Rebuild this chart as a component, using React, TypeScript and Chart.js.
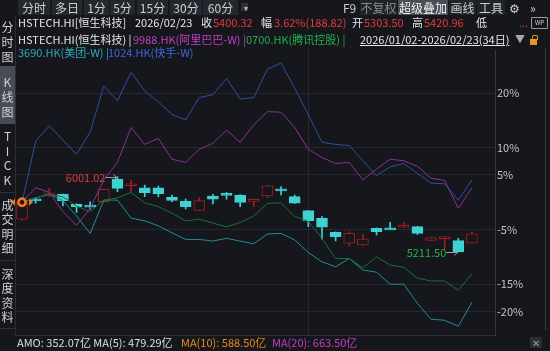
import React, { useEffect, useRef } from "react";
import { Chart, registerables } from "chart.js";

Chart.register(...registerables);

// 34 trading days, 2026/01/02 - 2026/02/23
const dates = [
  "2026-01-02", "2026-01-05", "2026-01-06", "2026-01-07", "2026-01-08", "2026-01-09",
  "2026-01-12", "2026-01-13", "2026-01-14", "2026-01-15", "2026-01-16",
  "2026-01-19", "2026-01-20", "2026-01-21", "2026-01-22", "2026-01-23",
  "2026-01-26", "2026-01-27", "2026-01-28", "2026-01-29", "2026-01-30",
  "2026-02-02", "2026-02-03", "2026-02-04", "2026-02-05", "2026-02-06",
  "2026-02-09", "2026-02-10", "2026-02-11", "2026-02-12", "2026-02-13",
  "2026-02-16", "2026-02-20", "2026-02-23",
];

// HSTECH.HI daily OHLC
const opens = [5553, 5749, 5797, 5815, 5713, 5702, 5737, 5976, 5905, 5884, 5884, 5784, 5741, 5647, 5797, 5821, 5808, 5741, 5797, 5855, 5790, 5643, 5563, 5416, 5301, 5283, 5458, 5463, 5469, 5475, 5332, 5353, 5328, 5303.5];
const highs = [5735, 5779, 5878, 5818, 5716, 5735, 5870, 6001.02, 5965, 5913, 5902, 5808, 5765, 5779, 5815, 5832, 5812, 5764, 5908, 5895, 5808, 5645, 5580, 5420, 5423, 5395, 5462, 5521, 5521, 5478, 5363, 5372, 5353, 5420.96];
const lows = [5542, 5721, 5790, 5692, 5625, 5655, 5733, 5842, 5842, 5790, 5790, 5737, 5661, 5647, 5713, 5765, 5685, 5685, 5779, 5808, 5718, 5475, 5343, 5325, 5272, 5280, 5388, 5451, 5467, 5395, 5330, 5238, 5211.5, 5300];
const closes = [5731, 5746, 5830, 5748, 5685, 5697, 5867, 5878, 5912, 5832, 5821, 5752, 5685, 5748, 5765, 5804, 5731, 5762, 5905, 5851, 5721, 5535, 5469, 5370, 5405, 5346, 5423, 5460, 5493, 5405, 5360, 5370, 5211.5, 5400.32];

// overlay series, % change from the first day
const kuaishou = [0, 11.2, 14.0, 11.4, 8.8, 12.9, 21.3, 18.6, 23.8, 20.4, 18.4, 16.1, 15.1, 19.2, 19.7, 22.7, 18.9, 19.2, 24.4, 25.5, 20.9, 16.0, 11.0, 10.6, 10.4, 7.6, 4.9, 6.5, 7.1, 5.3, 3.5, 3.4, 0.4, 4.1];
const alibaba = [0, 2.7, 1.8, -1.7, -4.2, -1.1, 4.1, 7.3, 13.7, 10.6, 11.7, 7.9, 7.3, 9.7, 10.8, 13.2, 11.0, 14.2, 16.6, 16.5, 13.7, 9.7, 8.2, 7.1, 7.3, 4.1, 6.1, 7.9, 7.6, 6.6, 4.4, 4.0, -1.1, 2.7];
const tencent = [0, 0.8, 1.5, 1.0, -0.7, -1.7, 0.4, 0.8, 1.8, -0.1, -0.8, -2.0, -3.4, -3.1, -3.8, -4.5, -3.7, -2.5, -0.2, -0.1, -2.6, -3.5, -6.6, -10.3, -10.3, -12.0, -10.0, -11.5, -11.9, -13.9, -14.4, -14.4, -16.1, -13.1];
const meituan = [0, 0.8, 1.5, 0.3, -2.5, -5.7, 0.4, 0.4, -2.9, -3.4, -4.3, -5.6, -6.8, -6.8, -7.1, -6.6, -7.1, -7.6, -5.8, -5.7, -6.9, -9.2, -10.9, -11.8, -10.3, -12.4, -12.8, -15.0, -15.0, -18.5, -21.4, -21.6, -22.7, -18.3];

const yTicks = [20, 10, 5, -5, -15, -20];
const monthStartIndex = 21;

const BG = "#15171c";
const UP = "#a51d1d";
const DOWN = "#40d2d2";
const FONT = '"Noto Sans CJK SC", "Noto Sans", sans-serif';

const T = ({ x, y, c = "#dcdcdc", s = 11, children, style = {} }: any) => (
  <div
    style={{
      position: "absolute",
      left: x,
      top: y - 7,
      height: 14,
      lineHeight: "14px",
      fontSize: s,
      color: c,
      whiteSpace: "nowrap",
      fontFamily: FONT,
      ...style,
    }}
  >
    {children}
  </div>
);

const Box = ({ x, y, w, h, bg, style = {} }: any) => (
  <div style={{ position: "absolute", left: x, top: y, width: w, height: h, background: bg, ...style }} />
);

export default function App() {
  const ref = useRef<HTMLCanvasElement>(null);

  useEffect(() => {
    const base = closes[0];
    const pct = (v: number) => (v / base - 1) * 100;
    const idx = dates.map((_, i) => i);
    const isUp = closes.map((c, i) => c >= opens[i]);

    const markerPlugin = {
      id: "markers",
      afterDatasetsDraw(chart: any) {
        const ctx = chart.ctx;
        const xs = chart.scales.x;
        const ys = chart.scales.y;
        ctx.save();
        // high / low annotations
        let hi = 0;
        let lo = 0;
        highs.forEach((h, i) => { if (h > highs[hi]) hi = i; });
        lows.forEach((l, i) => { if (l < lows[lo]) lo = i; });
        const drawNote = (i: number, v: number, color: string) => {
          const px = xs.getPixelForValue(i);
          const py = Math.round(ys.getPixelForValue(pct(v))) + 0.5;
          ctx.strokeStyle = "#a0a0a0";
          ctx.lineWidth = 1;
          ctx.beginPath();
          ctx.moveTo(px - 12, py);
          ctx.lineTo(px - 1, py);
          ctx.moveTo(px - 4, py - 3);
          ctx.lineTo(px - 1, py);
          ctx.lineTo(px - 4, py + 3);
          ctx.stroke();
          ctx.fillStyle = color;
          ctx.font = `11px ${FONT}`;
          ctx.textAlign = "right";
          ctx.textBaseline = "middle";
          ctx.fillText(v.toFixed(2), px - 12, py);
        };
        drawNote(hi, highs[hi], "#e23b3b");
        drawNote(lo, lows[lo], "#22b24c");
        // start marker
        const sx = xs.getPixelForValue(0);
        const sy = ys.getPixelForValue(0);
        ctx.fillStyle = "#f4731c";
        ctx.beginPath();
        ctx.moveTo(sx - 11, sy);
        ctx.lineTo(sx - 7, sy - 3.5);
        ctx.lineTo(sx - 7, sy + 3.5);
        ctx.closePath();
        ctx.fill();
        ctx.beginPath();
        ctx.moveTo(sx + 11, sy);
        ctx.lineTo(sx + 7, sy - 3.5);
        ctx.lineTo(sx + 7, sy + 3.5);
        ctx.closePath();
        ctx.fill();
        ctx.beginPath();
        ctx.arc(sx, sy, 5, 0, Math.PI * 2);
        ctx.fill();
        ctx.fillStyle = "#111";
        ctx.beginPath();
        ctx.arc(sx, sy, 2.2, 0, Math.PI * 2);
        ctx.fill();
        ctx.restore();
      },
    };

    const line = (label: string, data: number[], color: string) => ({
      type: "line" as const,
      label,
      data: idx.map((i) => ({ x: i, y: data[i] })),
      borderColor: color,
      borderWidth: 1,
      pointRadius: 0,
      tension: 0,
      order: 0,
    });

    const chart = new Chart(ref.current!, {
      type: "bar",
      data: {
        datasets: [
          line("1024.HK(快手-W)", kuaishou, "#2f50a3"),
          line("9988.HK(阿里巴巴-W)", alibaba, "#8e3092"),
          line("0700.HK(腾讯控股)", tencent, "#17703d"),
          line("3690.HK(美团-W)", meituan, "#1f8e99"),
          {
            type: "bar",
            label: "HSTECH body",
            data: idx.map((i) => ({ x: i, y: [pct(opens[i]), pct(closes[i])] })) as any,
            backgroundColor: isUp.map((u) => (u ? BG : DOWN)),
            borderColor: isUp.map((u) => (u ? UP : DOWN)),
            borderWidth: 1,
            borderSkipped: false,
            barThickness: 11,
            grouped: false,
            minBarLength: 2,
            order: 1,
          } as any,
          {
            type: "bar",
            label: "HSTECH wick",
            data: idx.map((i) => ({ x: i, y: [pct(lows[i]), pct(highs[i])] })) as any,
            backgroundColor: isUp.map((u) => (u ? UP : DOWN)),
            borderWidth: 0,
            barThickness: 1,
            grouped: false,
            order: 2,
          } as any,
        ],
      },
      options: {
        responsive: false,
        animation: false,
        devicePixelRatio: 1,
        layout: { padding: { left: 15.2, top: 50, bottom: 16, right: 0 } },
        plugins: { legend: { display: false }, tooltip: { enabled: false } },
        scales: {
          x: {
            type: "linear",
            min: -0.5,
            max: 34.69,
            offset: false,
            ticks: { display: false },
            grid: { color: "#272a30", drawTicks: false, offset: false },
            border: { display: false },
            afterBuildTicks: (s: any) => { s.ticks = [{ value: monthStartIndex }]; },
            afterFit: (s: any) => { s.height = 0; },
          },
          y: {
            position: "right",
            min: -24.3,
            max: 27.89,
            afterBuildTicks: (s: any) => { s.ticks = yTicks.map((v) => ({ value: v })); },
            afterFit: (s: any) => { s.width = 55; },
            ticks: {
              color: "#c4c4c4",
              padding: 2,
              font: { size: 11, family: FONT },
              callback: (v: any) => `${v}%`,
            },
            grid: { color: "#25282e", drawTicks: false },
            border: { display: true, color: "#34373e" },
          },
        },
      } as any,
      plugins: [markerPlugin],
    });
    return () => chart.destroy();
  }, []);

  const btns: [string, number, number][] = [
    ["分时", 18, 32], ["多日", 52, 30], ["1分", 84, 25], ["5分", 110, 25],
    ["15分", 137, 31], ["30分", 170, 32], ["60分", 203, 35],
  ];

  return (
    <div style={{ position: "fixed", left: 0, top: 0, width: 550, height: 351, background: BG, overflow: "hidden", fontFamily: FONT }}>
      <canvas ref={ref} width={550} height={351} style={{ position: "absolute", left: 0, top: 0, width: 550, height: 351 }} />

      {/* toolbar */}
      {btns.map(([t, x, w]) => (
        <div key={t} style={{ position: "absolute", left: x, top: 0, width: w, height: 15, background: "#24272d", color: "#cfcfcf", fontSize: 12, lineHeight: "15px", textAlign: "center" }}>{t}</div>
      ))}
      <Box x={241} y={3} w={7} h={8} bg="#2e3138" />
      <T x={244} y={8} c="#bbbbbb" s={8}>▾</T>
      <T x={343} y={8} c="#cfcfcf" s={12}>F9</T>
      <div style={{ position: "absolute", left: 360, top: 0, width: 37, height: 15, background: "#202329", color: "#8c8c8c", fontSize: 12, lineHeight: "15px", textAlign: "center" }}>不复权</div>
      <div style={{ position: "absolute", left: 398, top: 0, width: 50, height: 15, background: "#4a4d56", color: "#f2f2f2", fontSize: 12, lineHeight: "15px", textAlign: "center" }}>超级叠加</div>
      <div style={{ position: "absolute", left: 449, top: 0, width: 27, height: 15, background: "#202329", color: "#cfcfcf", fontSize: 12, lineHeight: "15px", textAlign: "center" }}>画线</div>
      <div style={{ position: "absolute", left: 477, top: 0, width: 28, height: 15, background: "#202329", color: "#cfcfcf", fontSize: 12, lineHeight: "15px", textAlign: "center" }}>工具</div>
      <T x={509} y={8} c="#cfcfcf" s={12}>⚙</T>
      <T x={530} y={8} c="#cfcfcf" s={12}>»</T>

      {/* left tabs */}
      <Box x={15} y={16} w={1} h={319} bg="#2b2e34" />
      <Box x={0} y={66} w={15} h={58} bg="#484b53" />
      <Box x={0} y={192} w={15} h={1} bg="#2f3238" />
      <Box x={0} y={260} w={15} h={1} bg="#2f3238" />
      <Box x={0} y={328} w={15} h={1} bg="#2f3238" />
      {[
        ["分", 27], ["时", 42], ["图", 57], ["K", 82], ["线", 97], ["图", 112],
        ["T", 136], ["I", 151], ["C", 165], ["K", 180],
        ["成", 205], ["交", 219], ["明", 234], ["细", 248],
        ["深", 274], ["度", 288], ["资", 303], ["料", 317],
      ].map(([ch, y], i) => (
        <div key={i} style={{ position: "absolute", left: 0, width: 15, top: (y as number) - 7, height: 14, lineHeight: "14px", textAlign: "center", fontSize: 12, color: "#d0d0d0" }}>{ch}</div>
      ))}

      {/* info row */}
      <T x={18} y={22} c="#e6e6e6">HSTECH.HI[恒生科技]</T>
      <T x={135} y={22} c="#e6e6e6">2026/02/23</T>
      <T x={201} y={22} c="#e6e6e6">收</T>
      <T x={213} y={22} c="#e8393a">5400.32</T>
      <T x={261} y={22} c="#e6e6e6">幅</T>
      <T x={274} y={22} c="#e8393a">3.62%(188.82)</T>
      <T x={352} y={22} c="#e6e6e6">开</T>
      <T x={364} y={22} c="#e8393a">5303.50</T>
      <T x={412} y={22} c="#e6e6e6">高</T>
      <T x={424} y={22} c="#e8393a">5420.96</T>
      <T x={476} y={22} c="#e6e6e6">低</T>
      <T x={519} y={22} c="#e8393a">...</T>
      <div style={{ position: "absolute", left: 531, top: 17, width: 15, height: 10, border: "1px solid #9a9a9a", borderRadius: 1, color: "#cfcfcf", fontSize: 6, lineHeight: "10px", textAlign: "center" }}>WP</div>

      {/* legend rows */}
      <T x={18} y={39} c="#e6e6e6">HSTECH.HI(恒生科技) |</T>
      <T x={133} y={39} c="#c23fc4">9988.HK(阿里巴巴-W) |</T>
      <T x={246} y={39} c="#22b04e">0700.HK(腾讯控股) |</T>
      <T x={360} y={39} c="#e6e6e6" style={{ textDecoration: "underline" }}>2026/01/02-2026/02/23(34日)</T>
      <T x={515} y={39} c="#a8a8a8" s={10}>▼</T>
      <Box x={530} y={39} w={7} h={6} bg="#e8961c" />
      <Box x={532} y={35} w={4} h={4} bg="transparent" style={{ border: "1px solid #e8961c", borderBottom: "none", borderRadius: "2px 2px 0 0" }} />
      <T x={18} y={52} c="#2ea8b8">3690.HK(美团-W) |</T>
      <T x={108} y={52} c="#3a66d8">1024.HK(快手-W)</T>

      {/* frame lines */}
      <Box x={15} y={335} w={480} h={1} bg="#2d3036" />
      <Box x={545} y={48} w={1} h={282} bg="#3a3d44" />

      {/* bottom row */}
      <T x={17} y={342} c="#dedede">AMO: 352.07亿 MA(5): 479.29亿</T>
      <T x={181} y={342} c="#e8891c">MA(10): 588.50亿</T>
      <T x={272} y={342} c="#c23fc4">MA(20): 663.50亿</T>
      <div style={{ position: "absolute", left: 530, top: 337, width: 12, height: 11, background: "#2a2d33", color: "#9a9a9a", fontSize: 10, lineHeight: "11px", textAlign: "center" }}>✕</div>
    </div>
  );
}
